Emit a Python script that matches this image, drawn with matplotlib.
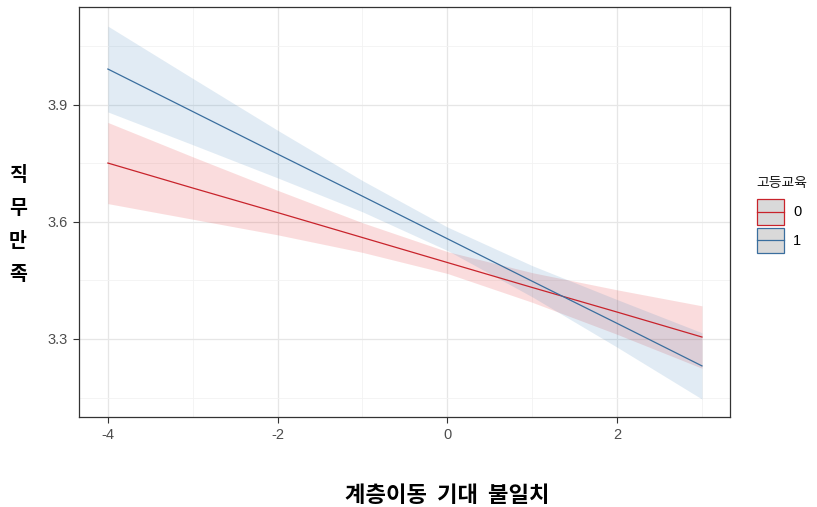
import matplotlib
matplotlib.use("Agg")
import matplotlib.pyplot as plt
from matplotlib.patches import Patch, Rectangle
from matplotlib.lines import Line2D
from matplotlib.legend_handler import HandlerBase

# values
x_pts = [-4, -3, -2, -1, 0, 1, 2, 3]

fit_0 = [3.751, 3.687, 3.624, 3.560, 3.496, 3.432, 3.369, 3.305]
upper_0 = [3.855, 3.767, 3.681, 3.598, 3.524, 3.470, 3.426, 3.385]
lower_0 = [3.647, 3.607, 3.567, 3.522, 3.468, 3.394, 3.312, 3.225]

fit_1 = [3.992, 3.883, 3.774, 3.666, 3.557, 3.448, 3.340, 3.231]
upper_1 = [4.102, 3.968, 3.835, 3.706, 3.587, 3.488, 3.401, 3.316]
lower_1 = [3.882, 3.798, 3.713, 3.626, 3.527, 3.408, 3.279, 3.146]

groups = ["0", "1"]
x_ticks = [-4, -2, 0, 2]
y_ticks = [3.3, 3.6, 3.9]

line_cols = ["#C8232B", "#3A6E9E"]
fill_cols = ["#E41A1C", "#377EB8"]


class KeyHandler(HandlerBase):
    # ggplot-like key: grey box with coloured border and a line across
    def create_artists(self, legend, orig, xd, yd, w, h, fontsize, trans):
        lc = orig.get_edgecolor()
        x0, y0 = -xd, -yd
        box = Rectangle((x0, y0), w, h, facecolor="#D9D9D9",
                        edgecolor=lc, linewidth=0.9, transform=trans)
        ln = Line2D([x0, x0 + w], [y0 + h / 2, y0 + h / 2], color=lc,
                    linewidth=0.9, transform=trans)
        return [box, ln]


fig = plt.figure(figsize=(8.17, 5.07), dpi=100)
ax = fig.add_axes([0.0967, 0.1775, 0.7968, 0.8087])

series = [(fit_0, lower_0, upper_0), (fit_1, lower_1, upper_1)]
for (fit, lo, hi), fc in zip(series, fill_cols):
    ax.fill_between(x_pts, lo, hi, color=fc, alpha=0.15, linewidth=0, zorder=2)
for (fit, lo, hi), lc in zip(series, line_cols):
    ax.plot(x_pts, fit, color=lc, linewidth=0.9, zorder=3)

ax.set_xlim(-4.34, 3.33)
ax.set_ylim(3.1, 4.151)
ax.set_xticks(x_ticks)
ax.set_yticks(y_ticks)
ax.set_xticks([-3, -1, 1, 3], minor=True)
ax.set_yticks([3.15, 3.45, 3.75, 4.05], minor=True)
ax.set_xticklabels([str(v) for v in x_ticks])
ax.set_yticklabels([f"{v:.1f}" for v in y_ticks])
ax.grid(which="major", color="#E6E6E6", linewidth=0.9, zorder=0)
ax.grid(which="minor", color="#F2F2F2", linewidth=0.6, zorder=0)
ax.set_axisbelow(True)
ax.tick_params(which="major", length=4, width=0.8, color="#333333",
               labelsize=10.5, labelcolor="#4D4D4D", pad=4)
ax.tick_params(which="minor", length=0)
for lab in ax.get_xticklabels() + ax.get_yticklabels():
    lab.set_fontfamily("Liberation Sans")
for sp in ax.spines.values():
    sp.set_color("#333333")
    sp.set_linewidth(0.9)

kfont = ["Noto Sans CJK KR", "DejaVu Sans"]
fig.text(447 / 817, 1 - 495 / 507, "계층이동  기대  불일치", ha="center", va="center",
         fontsize=16, fontweight="bold", family=kfont)
fig.text(18 / 817, 1 - 225 / 507, "직\n무\n만\n족", ha="center", va="center",
         fontsize=14, fontweight="bold", family=kfont, linespacing=1.95)

handles = [Patch(edgecolor=lc, facecolor="#D9D9D9") for lc in line_cols]
leg = fig.legend(handles, groups, title="고등교육", loc="upper left",
                 bbox_to_anchor=(0.926, 0.652), frameon=False,
                 handler_map={Patch: KeyHandler()},
                 handlelength=1.9, handleheight=2.35, handletextpad=0.6,
                 labelspacing=0.2, borderaxespad=0, borderpad=0,
                 prop={"family": "Liberation Sans", "size": 10.5},
                 title_fontproperties={"family": kfont, "size": 10})
leg._legend_box.align = "left"
leg._legend_box.sep = 6
leg.get_title().set_color("#1A1A1A")

fig.savefig("out.png", dpi=100)
